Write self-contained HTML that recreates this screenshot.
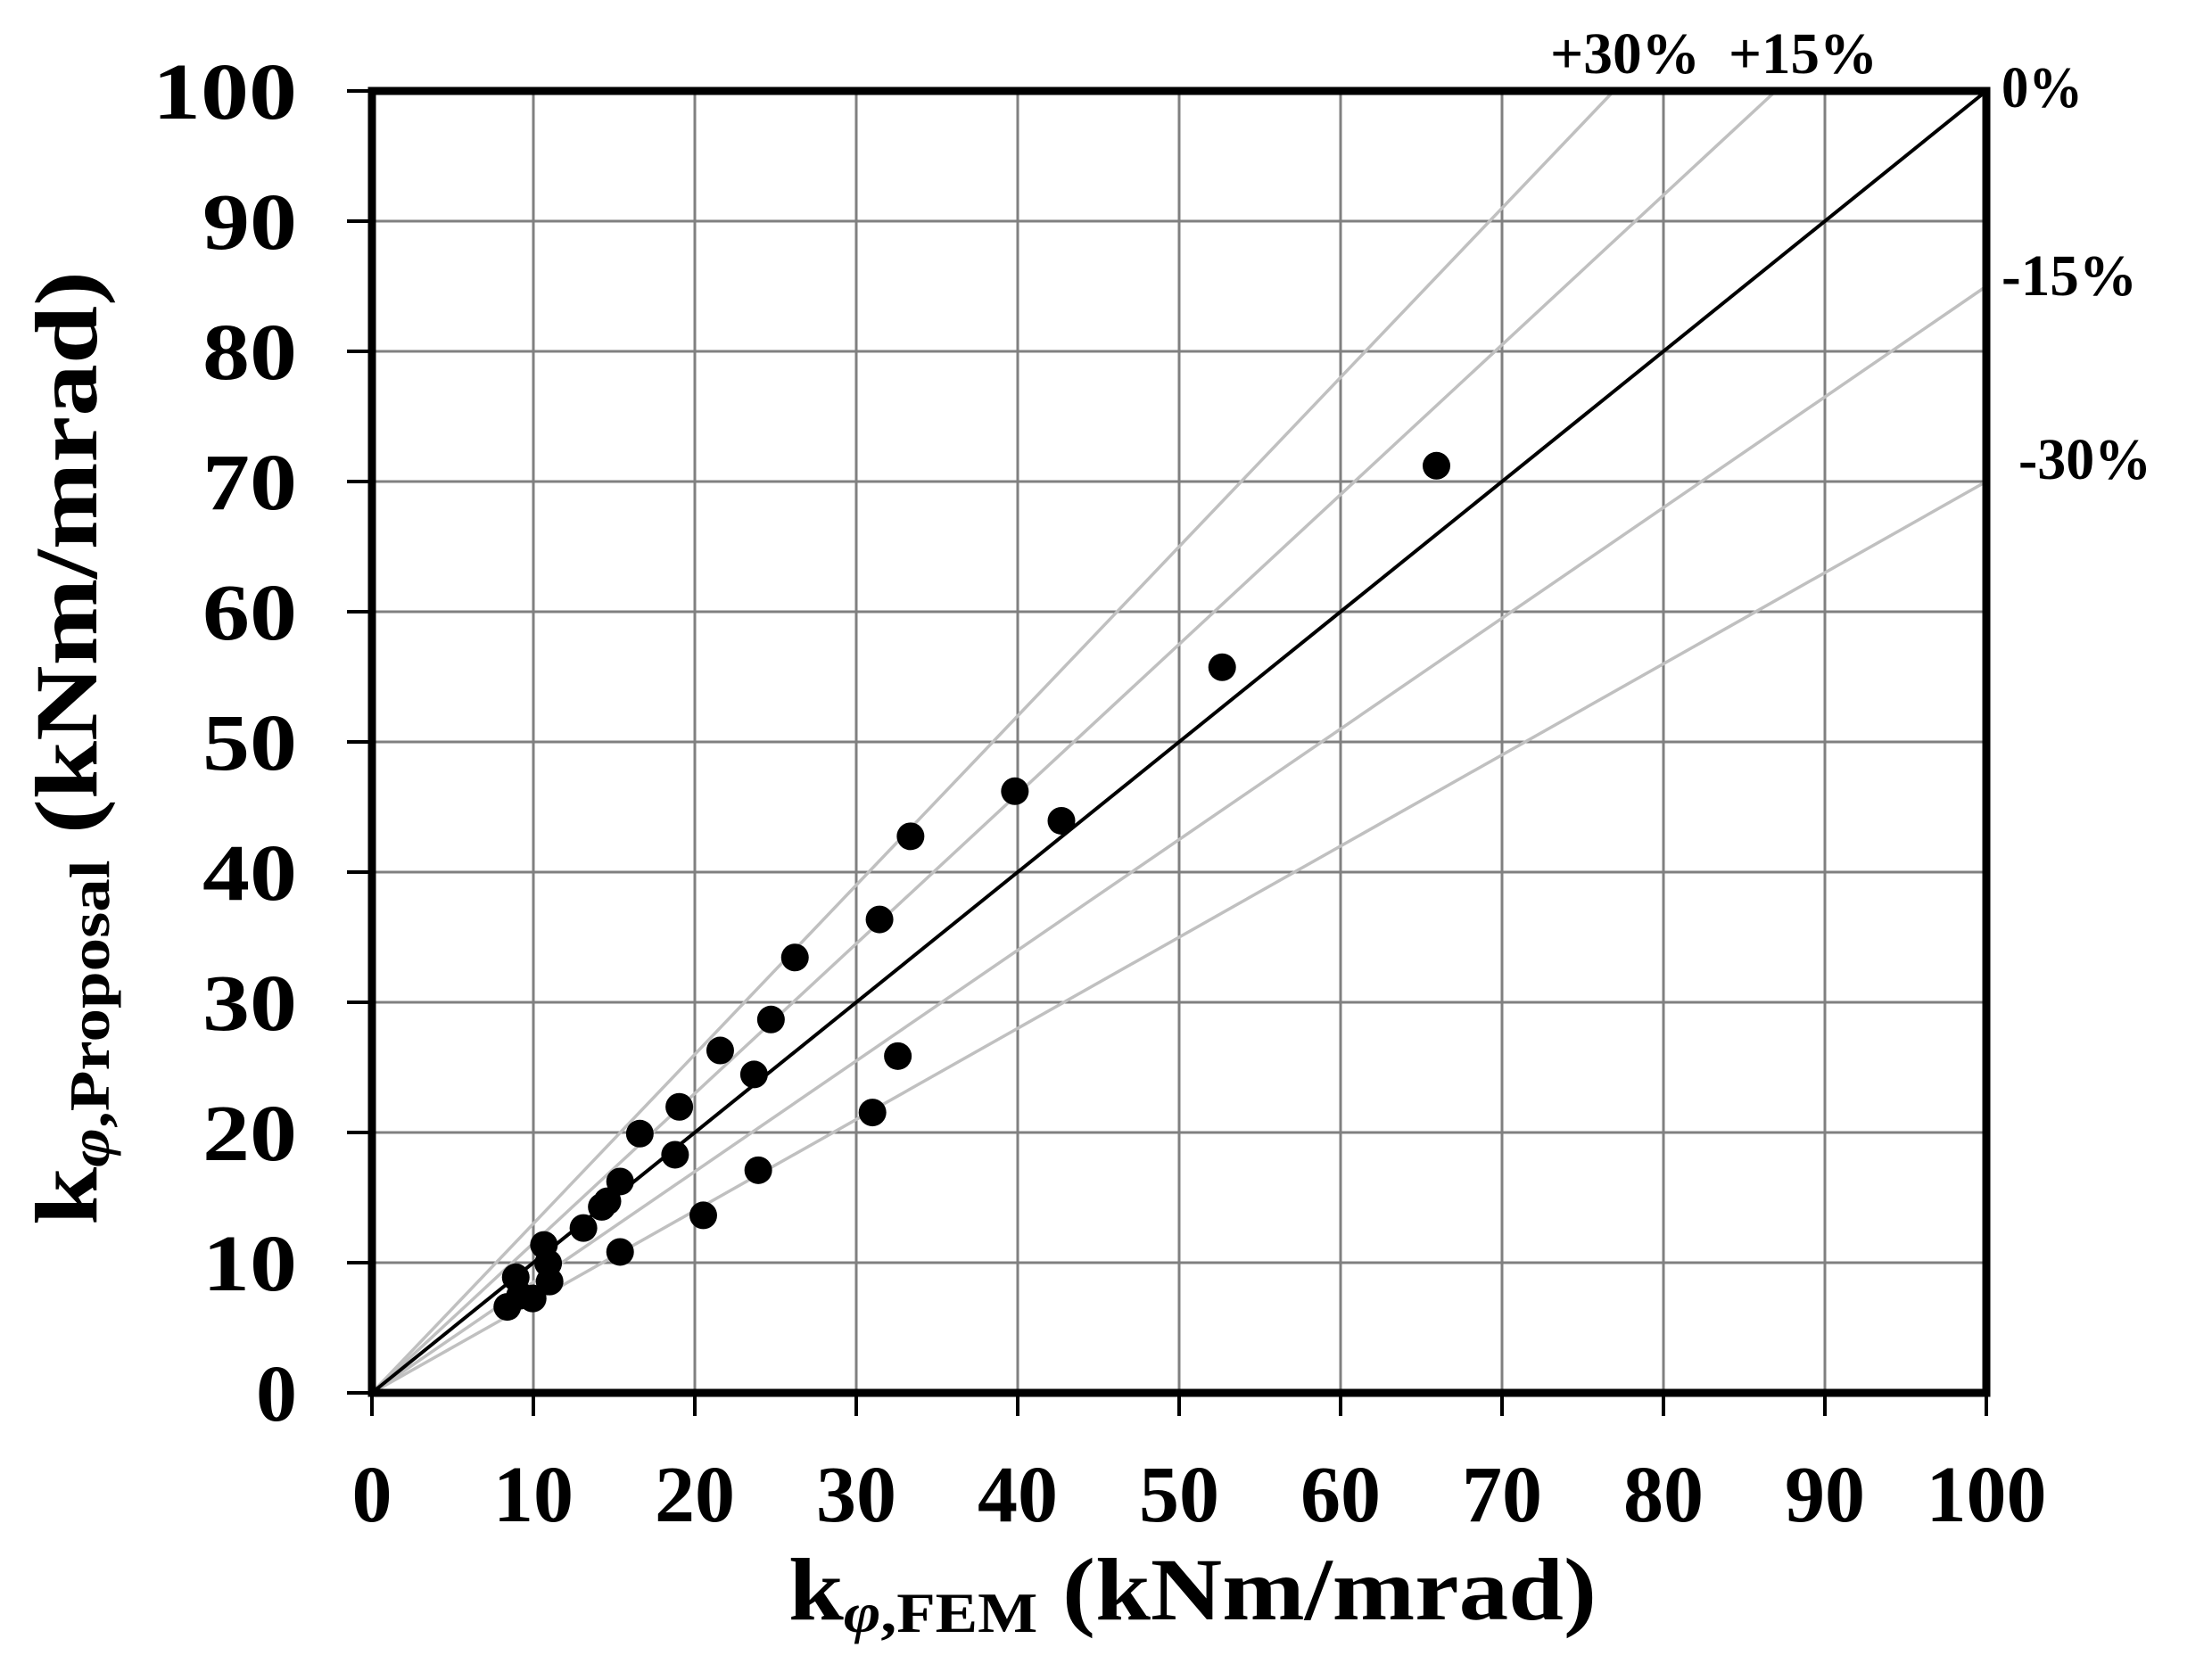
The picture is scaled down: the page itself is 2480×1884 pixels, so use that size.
<!DOCTYPE html>
<html><head><meta charset="utf-8"><style>html,body{margin:0;padding:0;background:#fff}svg{display:block}</style></head>
<body>
<svg id="s" width="2480" height="1884" xmlns="http://www.w3.org/2000/svg" font-family="Liberation Serif, serif" font-weight="bold">
<rect width="2480" height="1884" fill="#fff"/>
<g id="g"></g>
<text x="1337" y="1816" font-size="100" text-anchor="middle" textLength="906" lengthAdjust="spacingAndGlyphs">k<tspan font-size="64" dy="14" font-style="italic">φ</tspan><tspan font-size="64">,FEM</tspan><tspan dy="-14"> (kNm/mrad)</tspan></text>
<text transform="translate(108,839) rotate(-90)" x="0" y="0" font-size="100" text-anchor="middle" textLength="1070" lengthAdjust="spacingAndGlyphs">k<tspan font-size="64" dy="14" font-style="italic">φ</tspan><tspan font-size="64">,Proposal</tspan><tspan dy="-14"> (kNm/mrad)</tspan></text>
<g font-size="66">
<text x="1738" y="82" textLength="168" lengthAdjust="spacingAndGlyphs">+30%</text>
<text x="1938" y="82" textLength="167" lengthAdjust="spacingAndGlyphs">+15%</text>
<text x="2244" y="120" textLength="91" lengthAdjust="spacingAndGlyphs">0%</text>
<text x="2244" y="331" textLength="152" lengthAdjust="spacingAndGlyphs">-15%</text>
<text x="2263" y="537" textLength="149" lengthAdjust="spacingAndGlyphs">-30%</text>
</g>
</svg>
<script>
var X=function(v){return 417+18.1*v},Y=function(v){return 1562-14.6*v};
var h='';
for(var i=1;i<10;i++){h+='<line x1="'+X(i*10)+'" y1="102" x2="'+X(i*10)+'" y2="1562" stroke="#808080" stroke-width="3"/>';
h+='<line x1="417" y1="'+Y(i*10)+'" x2="2227" y2="'+Y(i*10)+'" stroke="#808080" stroke-width="3"/>';}
[[1.3],[1.15],[0.85],[0.7]].forEach(function(a){var k=a[0];var xe=k>1?100/k:100,ye=k>1?100:100*k;
h+='<line x1="'+X(0)+'" y1="'+Y(0)+'" x2="'+X(xe)+'" y2="'+Y(ye)+'" stroke="#c0c0c0" stroke-width="3.5"/>';});
h+='<line x1="'+X(0)+'" y1="'+Y(0)+'" x2="'+X(100)+'" y2="'+Y(100)+'" stroke="#000" stroke-width="4"/>';
for(var i=0;i<=10;i++){h+='<line x1="389" y1="'+Y(i*10)+'" x2="417" y2="'+Y(i*10)+'" stroke="#000" stroke-width="4"/>';
h+='<line x1="'+X(i*10)+'" y1="1562" x2="'+X(i*10)+'" y2="1588" stroke="#000" stroke-width="4"/>';
h+='<text x="333" y="'+(Y(i*10)+31)+'" font-size="90" text-anchor="end" textLength="'+(i==10?162:i==0?46:106)+'" lengthAdjust="spacingAndGlyphs">'+(i*10)+'</text>';
h+='<text x="'+X(i*10)+'" y="1706" font-size="90" text-anchor="middle">'+(i*10)+'</text>';}
h+='<rect x="417" y="102" width="1810" height="1460" fill="none" stroke="#000" stroke-width="9"/>';
var P=[[1018,329],[866,472],[719,560],[752,581],[645,592],[623,651],[563,678],[546,722],[510,744],[534,761],[636,748],[618,788],[481,784],[453,803],[478,818],[537,829],[439,837],[430,851],[426,855],[413,870],[498,861],[439,887],[385,882],[388,895],[365,905],[389,908],[368,918],[377,920],[359,926]];
P.forEach(function(p){var dx=(p[0]-263)/11.45,dy=(987-p[1])/9.24;h+='<circle cx="'+X(dx)+'" cy="'+Y(dy)+'" r="15.5" fill="#000"/>';});
document.getElementById('g').innerHTML=h;
</script>
</body></html>
